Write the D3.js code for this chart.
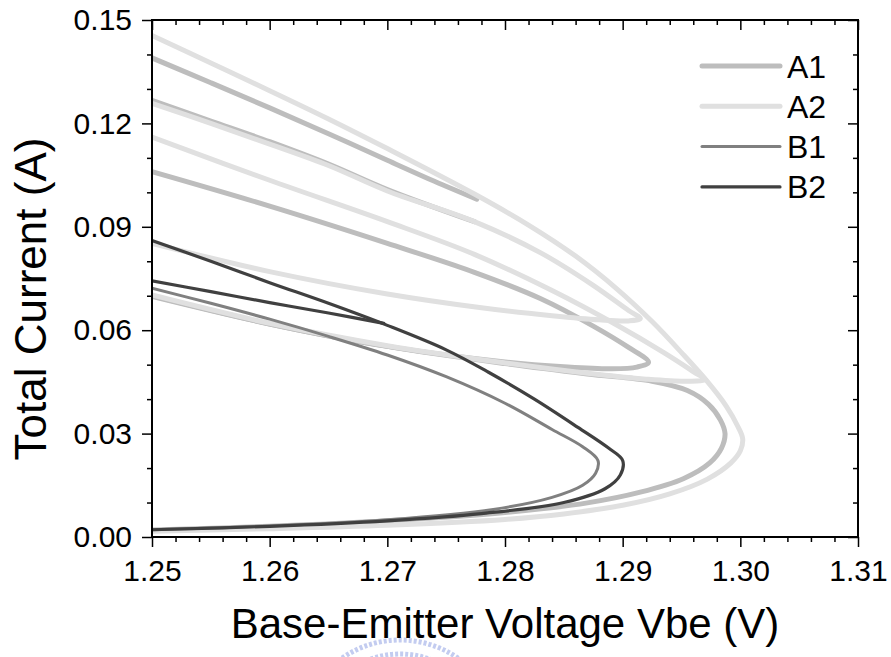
<!DOCTYPE html>
<html>
<head>
<meta charset="utf-8">
<title>Total current vs Vbe</title>
<script src="https://d3js.org/d3.v7.min.js"></script>
<style>
  body { margin: 0; background: #fff; }
  svg { font-family: "Liberation Sans", Arial, sans-serif; }
  .axis text { font-size: 30px; fill: #000; }
  .axis line { stroke: #000; stroke-width: 1.5; }
  .axis path { display: none; }
</style>
</head>
<body>
<div id="chart"></div>
<script>
// ---- data: [Vbe (V), total current (A)] ----
var vbeTicks = [1.25, 1.26, 1.27, 1.28, 1.29, 1.30, 1.31];
var currentTicks = [0.00, 0.03, 0.06, 0.09, 0.12, 0.15];
var seriesNames = ["A1", "A2", "B1", "B2"];

// A1
var a1Top = [[1.25,0.139],[1.255,0.1318],[1.26,0.1245],[1.265,0.1170],[1.27,0.1093],[1.274,0.1032],[1.2776,0.0980]];
var a1Thin = [[1.25,0.1267],[1.255,0.1207],[1.26,0.1147],[1.265,0.1082],[1.27,0.1008],[1.2774,0.0915]];
var a1Mid = [[1.25,0.106],[1.26,0.0960],[1.27,0.0852],[1.2774,0.0768],[1.283,0.0692],[1.2875,0.0612],[1.2905,0.0550],
  [1.2922,0.0507],[1.2912,0.0493],[1.289,0.0488],[1.285,0.0494],[1.28,0.0508],[1.27,0.0553],[1.26,0.0618],[1.25,0.0698]];
var a1Outer = [[1.25,0.0700],[1.26,0.0618],[1.27,0.0553],[1.28,0.0503],[1.287,0.0473],[1.2925,0.0452],[1.2955,0.0425],
  [1.2973,0.0385],[1.2983,0.0340],[1.2987,0.0300],[1.2984,0.0258],[1.2974,0.0215],[1.2952,0.0170],[1.2915,0.0130],
  [1.287,0.0099],[1.28,0.0071],[1.27,0.0047],[1.26,0.0031],[1.25,0.0020]];

// A2
var a2Outer = [[1.25,0.1455],[1.255,0.1375],[1.26,0.1295],[1.265,0.1213],[1.27,0.1127],[1.2774,0.0995],[1.282,0.0905],
  [1.286,0.0815],[1.2895,0.0720],[1.2925,0.0625],[1.295,0.0535],[1.2971,0.0455],[1.2988,0.0380],[1.2998,0.0320],
  [1.3002,0.0285],[1.3000,0.0250],[1.2992,0.0215],[1.2972,0.0168],[1.2940,0.0125],[1.29,0.0092],[1.285,0.0067],
  [1.28,0.0051],[1.27,0.0034],[1.26,0.0024],[1.25,0.0017]];
var a2Upper = [[1.25,0.1258],[1.255,0.1200],[1.26,0.1140],[1.265,0.1078],[1.27,0.1004],[1.2774,0.0915],[1.283,0.0825],
  [1.2875,0.0730],[1.2905,0.0657],[1.2915,0.0634],[1.2905,0.0627],[1.288,0.0630],[1.284,0.0642],[1.278,0.0665],
  [1.27,0.0705],[1.26,0.0770],[1.25,0.0852]];
var a2Lower = [[1.25,0.1160],[1.26,0.1035],[1.27,0.0915],[1.2774,0.0820],[1.284,0.0715],[1.2895,0.0615],[1.2935,0.0535],
  [1.296,0.0480],[1.2970,0.0457],[1.2955,0.0452],[1.292,0.0458],[1.287,0.0475],[1.28,0.0505],[1.27,0.0555],
  [1.26,0.0620],[1.25,0.0702]];

// B1
var b1Main = [[1.25,0.0722],[1.255,0.0678],[1.26,0.0632],[1.265,0.0582],[1.27,0.0528],[1.275,0.0465],[1.28,0.0388],
  [1.284,0.0312],[1.2866,0.0262],[1.2879,0.0222],[1.2877,0.0185],[1.2866,0.0150],[1.284,0.0115],[1.279,0.0080],
  [1.27,0.0050],[1.26,0.0032],[1.25,0.0021]];

// B2
var b2Main = [[1.25,0.0860],[1.255,0.0800],[1.26,0.0738],[1.265,0.0678],[1.27,0.0614],[1.275,0.0543],[1.2786,0.0478],
  [1.2825,0.0400],[1.2862,0.0318],[1.2888,0.0258],[1.2900,0.0222],[1.2898,0.0180],[1.2885,0.0140],[1.285,0.0100],
  [1.278,0.0068],[1.27,0.0047],[1.26,0.0031],[1.25,0.0021]];
var b2Branch = [[1.25,0.0743],[1.255,0.0712],[1.26,0.0680],[1.265,0.0650],[1.2697,0.0620]];

var seriesCurves = {
  "A1": [a1Top, a1Thin, a1Mid, a1Outer],
  "A2": [a2Outer, a2Upper, a2Lower],
  "B1": [b1Main],
  "B2": [b2Main, b2Branch]
};

// ---- styles ----
var colors = {"A1": "#bdbdbd", "A2": "#e0e0e0", "B1": "#808080", "B2": "#404040"};
var widths = {"A1": 5, "A2": 5, "B1": 3, "B2": 3.2};

var W = 891, H = 657;
var margin = {top: 20, right: 33, bottom: 120, left: 152};
var width = W - margin.left - margin.right,
    height = H - margin.top - margin.bottom;

var svg = d3.select("#chart").append("svg")
    .attr("width", W).attr("height", H);

// faint watermark seal under the x title
svg.append("path")
    .attr("d", d3.arc()({innerRadius: 88, outerRadius: 102, startAngle: -0.7, endAngle: 0.7}))
    .attr("transform", "translate(400,742)")
    .attr("fill", "none")
    .attr("stroke", "#c3ccf0")
    .attr("stroke-width", 5)
    .attr("stroke-dasharray", "3 2");

var g = svg.append("g")
    .attr("transform", "translate(" + margin.left + "," + margin.top + ")");

var x = d3.scaleLinear().domain([1.25, 1.31]).range([0, width]);
var y = d3.scaleLinear().domain([0, 0.15]).range([height, 0]);

var minorX = d3.range(1.25, 1.3101, 0.002).filter(function(d) { return Math.abs(Math.round(d * 100) - d * 100) > 1e-6; });
var minorY = d3.range(0, 0.1501, 0.01).filter(function(d) { return Math.abs(Math.round(d / 0.03) - d / 0.03) > 1e-6; });

g.append("defs").append("clipPath").attr("id", "clip")
  .append("rect").attr("width", width).attr("height", height);

// curves
var line = d3.line()
    .x(function(d) { return x(d[0]); })
    .y(function(d) { return y(d[1]); })
    .curve(d3.curveCatmullRom.alpha(0.5));

var plot = g.append("g").attr("clip-path", "url(#clip)");
seriesNames.forEach(function(name) {
  plot.append("g").selectAll("path")
      .data(seriesCurves[name])
      .enter().append("path")
      .attr("d", line)
      .attr("fill", "none")
      .attr("stroke", colors[name])
      .attr("stroke-width", widths[name])
      .attr("stroke-linejoin", "round")
      .attr("stroke-linecap", "round");
});

// axes: major + minor, bottom/left outward, top/right inward
g.append("g").attr("class", "axis")
    .attr("transform", "translate(0," + height + ")")
    .call(d3.axisBottom(x).tickValues(vbeTicks).tickSize(10).tickPadding(13).tickFormat(d3.format(".2f")));
g.append("g").attr("class", "axis")
    .attr("transform", "translate(0," + height + ")")
    .call(d3.axisBottom(x).tickValues(minorX).tickSize(5).tickFormat(""));
g.append("g").attr("class", "axis")
    .call(d3.axisTop(x).tickValues(vbeTicks).tickSize(-10).tickFormat(""));
g.append("g").attr("class", "axis")
    .call(d3.axisTop(x).tickValues(minorX).tickSize(-5).tickFormat(""));

g.append("g").attr("class", "axis")
    .call(d3.axisLeft(y).tickValues(currentTicks).tickSize(10).tickPadding(10).tickFormat(d3.format(".2f")));
g.append("g").attr("class", "axis")
    .call(d3.axisLeft(y).tickValues(minorY).tickSize(5).tickFormat(""));
g.append("g").attr("class", "axis")
    .attr("transform", "translate(" + width + ",0)")
    .call(d3.axisRight(y).tickValues(currentTicks).tickSize(-10).tickFormat(""));
g.append("g").attr("class", "axis")
    .attr("transform", "translate(" + width + ",0)")
    .call(d3.axisRight(y).tickValues(minorY).tickSize(-5).tickFormat(""));

g.append("rect")
    .attr("width", width).attr("height", height)
    .attr("fill", "none").attr("stroke", "#000").attr("stroke-width", 2);

// axis titles
svg.append("text")
    .attr("x", 505).attr("y", 638)
    .attr("text-anchor", "middle")
    .attr("font-size", 42)
    .text("Base-Emitter Voltage Vbe (V)");
svg.append("text")
    .attr("transform", "translate(46,299)rotate(-90)")
    .attr("text-anchor", "middle")
    .attr("font-size", 44)
    .text("Total Current (A)");

// legend
var legend = g.append("g").selectAll("g")
    .data(seriesNames)
    .enter().append("g")
    .attr("transform", function(d, i) { return "translate(" + (702 - margin.left) + "," + (66 - margin.top + i * 40.3) + ")"; });
legend.append("line")
    .attr("x1", 0).attr("x2", 78)
    .attr("stroke", function(d) { return colors[d]; })
    .attr("stroke-width", function(d) { return widths[d]; })
    .attr("stroke-linecap", "round");
legend.append("text")
    .attr("x", 85).attr("dy", "0.36em")
    .attr("font-size", 32)
    .text(function(d) { return d; });
</script>
</body>
</html>
